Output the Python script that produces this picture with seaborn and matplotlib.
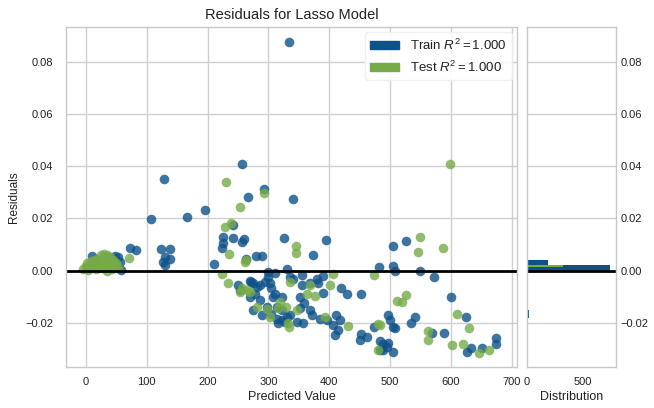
import matplotlib
matplotlib.use("Agg")
import matplotlib.pyplot as plt
import seaborn as sns
import pandas as pd
from matplotlib.patches import Patch

# ---------------- data ----------------
train_pred = [334, 256, 129, 293, 267, 340, 196, 166, 107, 241, 226, 241, 260, 256, 226, 223,
              326, 394, 374, 505, 526, 263, 280, 289, 210, 72, 82, 124, 138, 130, 138, 130, 127,
              330, 300, 311, 300, 482, 505, 509, 550, 572, 355, 380, 390, 272, 281,
              250, 270, 274, 294, 286, 335, 340, 355, 368, 382, 305, 311, 307, 322, 302,
              352, 359, 352, 368, 419, 429, 453, 390, 600,
              275, 289, 305, 314, 322, 330, 316, 327, 336, 347, 357, 371, 385, 396, 407, 412,
              418, 415, 410, 453, 451, 462, 473, 497, 500, 505, 484, 497, 505, 488,
              508, 541, 534, 569, 589, 489, 495, 484, 626, 634, 651, 675, 674, 625,
              254, 278, 286, 297, 314, 270, 322,
              10, 9, 52, 56, 57, 2, 45, 48, 18, 38]
train_resid = [0.0877, 0.0408, 0.0351, 0.0312, 0.0282, 0.0276, 0.0233, 0.0205, 0.0199, 0.0175,
               0.0130, 0.0124, 0.0121, 0.0108, 0.0105, 0.0085,
               0.0126, 0.0117, 0.0061, 0.0096, 0.0113, 0.0044, 0.0056, 0.0056, 0.0025,
               0.0085, 0.0078, 0.0084, 0.0084, 0.0053, 0.0043, 0.0021, 0.0034,
               0.0008, -0.0005, -0.0008, -0.0024, 0.0015, 0.0019, -0.0003, -0.0001, -0.0024,
               -0.0015, -0.0034, -0.0021, -0.0043, -0.0062,
               -0.0056, -0.0039, -0.0049, -0.0043, -0.0056, -0.0024, -0.0034, -0.0056, -0.0049,
               -0.0049, -0.0068, -0.0088, -0.0101, -0.0103, -0.0049,
               -0.0101, -0.0124, -0.0145, -0.0152, -0.0068, -0.0088, -0.0090, -0.0085, -0.0103,
               -0.0152, -0.0171, -0.0165, -0.0184, -0.0190, -0.0178, -0.0203, -0.0197, -0.0171,
               -0.0197, -0.0203, -0.0171, -0.0184, -0.0190, -0.0210, -0.0171,
               -0.0190, -0.0229, -0.0248, -0.0242, -0.0267, -0.0255, -0.0216, -0.0171, -0.0190,
               -0.0216, -0.0272, -0.0278, -0.0312, -0.0306,
               -0.0222, -0.0178, -0.0203, -0.0239, -0.0239, -0.0280, -0.0293, -0.0306, -0.0312,
               -0.0299, -0.0299, -0.0257, -0.0280, -0.0178,
               -0.0075, -0.0088, -0.0113, -0.0139, -0.0139, -0.0101, -0.0152,
               0.0057, 0.0028, 0.0053, 0.0034, 0.0002, 0.0012, 0.0045, 0.0055, 0.0040, 0.0050]

test_pred = [599, 230, 293, 254, 239, 229, 235, 262, 263, 70, 346, 345, 550, 546, 587,
             224, 234, 473, 406, 256, 264, 270, 253, 335, 368, 377, 363, 402,
             512, 526, 519, 281, 297, 316, 329, 303, 333, 347, 334, 393, 431, 481, 481, 484,
             611, 630, 563, 563, 602, 620, 647, 663, 319,
             -5, 0, 3, 6, 10, 13, 16, 20, 23, 26, 30, 33, 36, 40, 43, 46, 50, 53,
             2, 8, 14, 20, 27, 32, 38, 44, 49, 25, 30, 35, 40, 28, 34, 22, 12]
test_resid = [0.0408, 0.0342, 0.0297, 0.0245, 0.0182, 0.0166, 0.0065, 0.0034, 0.0042, 0.0047,
              0.0094, 0.0069, 0.0128, 0.0070, 0.0085,
              -0.0013, -0.0049, -0.0017, -0.0013, -0.0065, -0.0075, -0.0082, -0.0082,
              -0.0043, -0.0056, -0.0098, -0.0090, -0.0056,
              -0.0116, -0.0094, -0.0120, -0.0139, -0.0149, -0.0145, -0.0139, -0.0178, -0.0203,
              -0.0152, -0.0216, -0.0178, -0.0212, -0.0206, -0.0303, -0.0210,
              -0.0168, -0.0220, -0.0233, -0.0267, -0.0287, -0.0283, -0.0318, -0.0306, -0.0120,
              0.0008, 0.0018, 0.0004, 0.0025, 0.0012, 0.0030, 0.0006, 0.0022, 0.0035, 0.0010,
              0.0028, 0.0015, 0.0040, 0.0020, 0.0008, 0.0030, 0.0018, 0.0010,
              0.0030, 0.0035, 0.0040, 0.0045, 0.0050, 0.0055, 0.0048, 0.0040, 0.0028,
              0.0060, 0.0065, 0.0060, 0.0052, 0.0020, 0.0000, 0.0015, 0.0022]

# residual distribution (horizontal histogram), bin edges and counts
hist_train_lo = [-0.0183, -0.0005, 0.0021]
hist_train_hi = [-0.0152, 0.0021, 0.0040]
hist_train_count = [15, 750, 188]
hist_test_lo = [0.0012]
hist_test_hi = [0.0021]
hist_test_count = [320]

x_ticks = [0, 100, 200, 300, 400, 500, 600, 700]
y_ticks = [-0.02, 0.00, 0.02, 0.04, 0.06, 0.08]
hist_x_ticks = [0, 500]
title = "Residuals for Lasso Model"
x_label = "Predicted Value"
y_label = "Residuals"
hist_label = "Distribution"
train_label = "Train $R^2 = 1.000$"
test_label = "Test $R^2 = 1.000$"

# ---------------- style ----------------
sns.set_theme(style="whitegrid")
plt.rcParams.update({
    "font.family": ["Liberation Sans", "DejaVu Sans"],
    "mathtext.fontset": "custom",
    "mathtext.rm": "Liberation Sans",
    "mathtext.it": "Liberation Sans:italic",
    "axes.edgecolor": "#c8c8c8",
    "axes.linewidth": 1.0,
    "grid.color": "#cfcfcf",
    "grid.linewidth": 1.0,
    "text.color": "#222222",
    "axes.labelcolor": "#222222",
    "xtick.color": "#222222",
    "ytick.color": "#222222",
})

train_color = "#0e5289"
test_color = "#77ab48"

train_df = pd.DataFrame({"pred": train_pred, "resid": train_resid})
test_df = pd.DataFrame({"pred": test_pred, "resid": test_resid})

fig = plt.figure(figsize=(6.54, 4.08), dpi=100)
ax = fig.add_axes([0.1009, 0.1005, 0.6896, 0.8333])
hax = fig.add_axes([0.8058, 0.1005, 0.1361, 0.8333], sharey=ax)

sns.scatterplot(data=train_df, x="pred", y="resid", ax=ax, color=train_color,
                s=48, alpha=0.8, linewidth=0, legend=False)
sns.scatterplot(data=test_df, x="pred", y="resid", ax=ax, color=test_color,
                s=48, alpha=0.8, linewidth=0, legend=False)
ax.axhline(0, color="black", lw=2)

ax.set_xlim(-33, 709)
ax.set_ylim(-0.0370, 0.0935)
ax.set_xticks(x_ticks)
ax.set_yticks(y_ticks)
ax.set_yticklabels([f"{v:.2f}".replace("-", "\u2212") for v in y_ticks])
ax.tick_params(axis="both", labelsize=8, length=0)
ax.tick_params(axis="y", pad=9)
ax.tick_params(axis="x", pad=7)
ax.set_title(title, fontsize=10.5, pad=6)
ax.set_xlabel(x_label, fontsize=9, labelpad=3)
ax.set_ylabel(y_label, fontsize=8.5, labelpad=4)

handles = [Patch(facecolor=train_color, edgecolor=train_color),
           Patch(facecolor=test_color, edgecolor=test_color)]
leg = ax.legend(handles, [train_label, test_label], loc="upper right", fontsize=9.5,
                frameon=True, framealpha=0.9, edgecolor="#eeeeee", borderaxespad=0.4,
                handlelength=2.2, handleheight=0.6)

# histogram of residuals
hax.barh(hist_train_lo, hist_train_count,
         height=[h - l for l, h in zip(hist_train_lo, hist_train_hi)],
         align="edge", color=train_color, linewidth=0)
hax.barh(hist_test_lo, hist_test_count,
         height=[h - l for l, h in zip(hist_test_lo, hist_test_hi)],
         align="edge", color=test_color, linewidth=0)
hax.axhline(0, color="black", lw=2)
hax.set_xlim(0, 800)
hax.set_xticks(hist_x_ticks)
hax.grid(False, axis="x")
hax.yaxis.tick_right()
hax.tick_params(axis="both", labelsize=8, length=0)
hax.tick_params(axis="y", pad=3, labelright=True, labelleft=False)
hax.tick_params(axis="x", pad=7)
hax.set_xlabel(hist_label, fontsize=9, labelpad=3)

fig.savefig("out.png", dpi=100)
